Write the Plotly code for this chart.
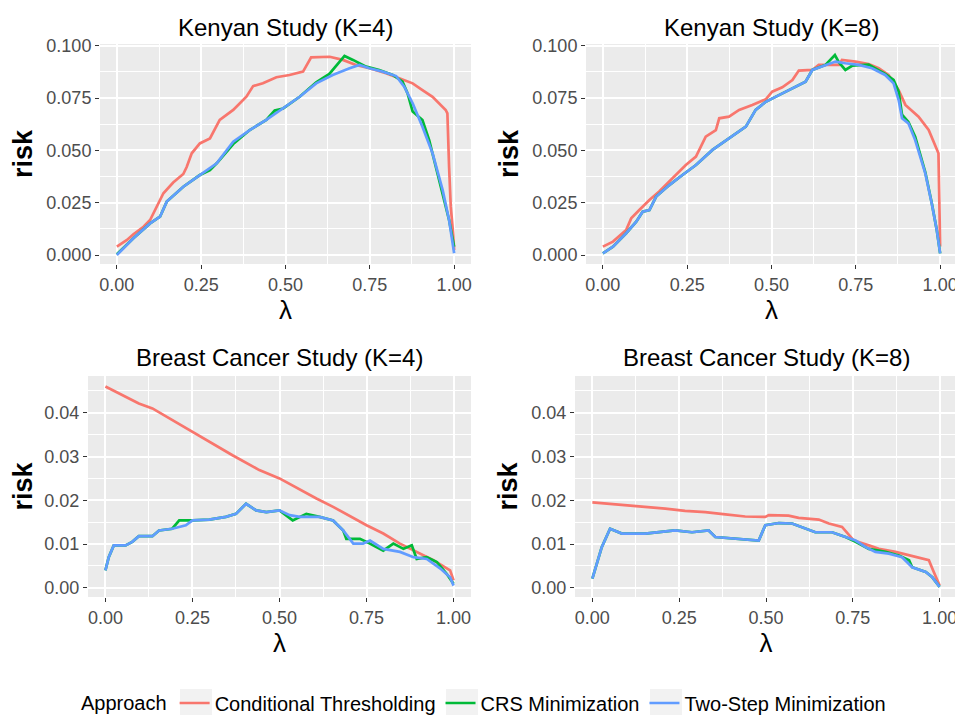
import plotly.graph_objects as go

# ---------------- data ----------------
series_names = ["Conditional Thresholding", "CRS Minimization", "Two-Step Minimization"]
series_colors = ["#F8766D", "#00BA38", "#619CFF"]
panel_titles = ["Kenyan Study (K=4)", "Kenyan Study (K=8)",
                "Breast Cancer Study (K=4)", "Breast Cancer Study (K=8)"]
x_tick_vals = [0, 0.25, 0.5, 0.75, 1.0]
x_tick_text = ["0.00", "0.25", "0.50", "0.75", "1.00"]
kenya_tick_vals = [0, 0.025, 0.05, 0.075, 0.1]
kenya_tick_text = ["0.000", "0.025", "0.050", "0.075", "0.100"]
breast_tick_vals = [0, 0.01, 0.02, 0.03, 0.04]
breast_tick_text = ["0.00", "0.01", "0.02", "0.03", "0.04"]

# Kenyan Study K=4
kenya4_ct_lambda = [0, 0.03, 0.049, 0.079, 0.0985, 0.118, 0.138, 0.167, 0.197, 0.207, 0.222, 0.246, 0.276,
                    0.305, 0.345, 0.384, 0.404, 0.433, 0.473, 0.512, 0.552, 0.576, 0.631, 0.67, 0.709, 0.749,
                    0.798, 0.837, 0.877, 0.906, 0.936, 0.975, 0.98, 0.985, 0.99, 0.997, 1.0]
kenya4_ct_risk = [0.004, 0.0072, 0.0099, 0.0135, 0.0167, 0.023, 0.0295, 0.0346, 0.0387, 0.042, 0.0486, 0.0533,
                  0.0557, 0.0645, 0.0693, 0.0756, 0.0807, 0.082, 0.0849, 0.086, 0.0876, 0.0944, 0.0947, 0.0932,
                  0.0908, 0.0892, 0.0868, 0.0844, 0.082, 0.0788, 0.0756, 0.0693, 0.0677, 0.0422, 0.0231, 0.0104,
                  0.0024]
kenya4_crs_lambda = [0, 0.049, 0.0985, 0.128, 0.148, 0.197, 0.246, 0.276, 0.296, 0.345, 0.394, 0.443, 0.468,
                     0.493, 0.542, 0.591, 0.63, 0.655, 0.675, 0.7, 0.739, 0.778, 0.818, 0.847, 0.862, 0.877,
                     0.906, 0.926, 0.946, 0.966, 0.985, 1.0]
kenya4_crs_risk = [0.0004, 0.008, 0.0151, 0.0183, 0.0255, 0.0326, 0.0382, 0.0405, 0.0438, 0.053, 0.0597, 0.0645,
                   0.069, 0.070, 0.0756, 0.0825, 0.0865, 0.091, 0.0951, 0.0932, 0.090, 0.0884, 0.086, 0.0828,
                   0.0772, 0.0685, 0.0645, 0.0549, 0.0422, 0.0295, 0.0167, 0.004]
kenya4_ts_lambda = [0, 0.049, 0.0985, 0.128, 0.148, 0.197, 0.246, 0.296, 0.345, 0.394, 0.443, 0.493, 0.542,
                    0.591, 0.64, 0.69, 0.719, 0.749, 0.788, 0.828, 0.852, 0.877, 0.906, 0.936, 0.966, 0.985, 1.0]
kenya4_ts_risk = [0.0, 0.008, 0.0151, 0.0183, 0.0255, 0.0326, 0.0382, 0.0438, 0.0541, 0.0597, 0.0645, 0.070,
                  0.0756, 0.082, 0.086, 0.0892, 0.0908, 0.0892, 0.0876, 0.0855, 0.0804, 0.0725, 0.0613, 0.0486,
                  0.031, 0.0167, 0.0008]

# Kenyan Study K=8
kenya8_ct_lambda = [0, 0.03, 0.069, 0.084, 0.108, 0.138, 0.167, 0.197, 0.227, 0.246, 0.276, 0.305, 0.335, 0.345,
                    0.374, 0.404, 0.443, 0.483, 0.502, 0.532, 0.562, 0.581, 0.621, 0.64, 0.7, 0.709, 0.749, 0.788,
                    0.818, 0.847, 0.877, 0.897, 0.936, 0.966, 0.995, 0.997, 1.0]
kenya8_ct_risk = [0.004, 0.0064, 0.0119, 0.0175, 0.0215, 0.0263, 0.0303, 0.035, 0.0398, 0.043, 0.047, 0.0565,
                  0.0597, 0.0653, 0.0661, 0.0693, 0.0717, 0.0744, 0.078, 0.0801, 0.0836, 0.0881, 0.0884, 0.0908,
                  0.0908, 0.0932, 0.0924, 0.0912, 0.0892, 0.086, 0.0788, 0.0717, 0.0661, 0.0597, 0.0486, 0.0247,
                  0.004]
kenya8_crs_lambda = [0, 0.03, 0.069, 0.099, 0.118, 0.138, 0.158, 0.197, 0.236, 0.276, 0.325, 0.374, 0.424, 0.453,
                     0.483, 0.522, 0.571, 0.601, 0.621, 0.66, 0.688, 0.70, 0.719, 0.74, 0.788, 0.837, 0.862,
                     0.877, 0.887, 0.906, 0.926, 0.956, 0.975, 0.99, 1.0]
kenya8_crs_risk = [0.0008, 0.004, 0.0104, 0.0159, 0.0207, 0.0215, 0.0279, 0.0334, 0.0382, 0.043, 0.0502, 0.0557,
                   0.0613, 0.0693, 0.0732, 0.0764, 0.0804, 0.0828, 0.0884, 0.0908, 0.0955, 0.092, 0.0884, 0.0905,
                   0.091, 0.0865, 0.0836, 0.078, 0.067, 0.0635, 0.0565, 0.0395, 0.025, 0.012, 0.0008]
kenya8_ts_lambda = [0, 0.03, 0.069, 0.099, 0.118, 0.138, 0.158, 0.197, 0.236, 0.276, 0.325, 0.374, 0.424, 0.453,
                    0.483, 0.522, 0.571, 0.601, 0.621, 0.66, 0.69, 0.719, 0.759, 0.798, 0.837, 0.862, 0.877, 0.887,
                    0.906, 0.926, 0.956, 0.975, 0.99, 1.0]
kenya8_ts_risk = [0.0008, 0.004, 0.0104, 0.0159, 0.0207, 0.0215, 0.0279, 0.0334, 0.0382, 0.043, 0.0502, 0.0557,
                  0.0613, 0.0693, 0.0732, 0.0764, 0.0804, 0.0828, 0.0884, 0.0908, 0.0924, 0.0916, 0.0908, 0.0892,
                  0.086, 0.082, 0.074, 0.0653, 0.0629, 0.0549, 0.039, 0.0247, 0.0119, 0.0008]

# Breast Cancer Study K=4
breast4_ct_lambda = [0, 0.096, 0.135, 0.25, 0.365, 0.442, 0.5, 0.606, 0.654, 0.75, 0.798, 0.846, 0.894, 0.942,
                     0.99, 1.0]
breast4_ct_risk = [0.046, 0.0421, 0.041, 0.0356, 0.0303, 0.0269, 0.025, 0.0204, 0.0185, 0.0143, 0.0124, 0.0101,
                   0.0082, 0.0063, 0.004, 0.0017]
breast4_crs_lambda = [0, 0.0096, 0.024, 0.058, 0.077, 0.096, 0.135, 0.154, 0.192, 0.212, 0.25, 0.298, 0.346,
                      0.375, 0.404, 0.433, 0.462, 0.5, 0.538, 0.577, 0.615, 0.654, 0.683, 0.692, 0.731, 0.75,
                      0.798, 0.827, 0.856, 0.88, 0.894, 0.923, 0.952, 0.98, 1.0]
breast4_crs_risk = [0.004, 0.007, 0.0097, 0.0097, 0.0105, 0.0118, 0.0118, 0.0131, 0.0135, 0.0154, 0.0154,
                    0.0156, 0.0162, 0.0169, 0.0192, 0.0177, 0.0173, 0.0177, 0.0154, 0.0169, 0.0162, 0.0154,
                    0.0131, 0.0112, 0.0112, 0.0105, 0.0085, 0.0101, 0.0089, 0.0097, 0.0066, 0.007, 0.0059,
                    0.0032, 0.0009]
breast4_ts_lambda = [0, 0.0096, 0.024, 0.058, 0.077, 0.096, 0.135, 0.154, 0.192, 0.231, 0.25, 0.298, 0.346,
                     0.375, 0.404, 0.433, 0.462, 0.5, 0.529, 0.558, 0.615, 0.654, 0.683, 0.712, 0.74, 0.76, 0.798,
                     0.846, 0.885, 0.923, 0.962, 0.99, 1.0]
breast4_ts_risk = [0.004, 0.007, 0.0097, 0.0097, 0.0105, 0.0118, 0.0118, 0.0131, 0.0135, 0.0143, 0.0154, 0.0156,
                   0.0162, 0.0169, 0.0192, 0.0177, 0.0173, 0.0177, 0.0166, 0.0162, 0.0162, 0.0154, 0.0131,
                   0.0101, 0.0101, 0.0108, 0.0089, 0.0082, 0.007, 0.0066, 0.0044, 0.0024, 0.0005]

# Breast Cancer Study K=8
breast8_ct_lambda = [0, 0.046, 0.104, 0.152, 0.21, 0.267, 0.325, 0.383, 0.44, 0.498, 0.508, 0.565, 0.594, 0.652,
                     0.681, 0.719, 0.753, 0.796, 0.825, 0.873, 0.912, 0.969, 0.981, 1.0]
breast8_ct_risk = [0.0195, 0.0192, 0.0189, 0.0186, 0.0181, 0.0176, 0.0173, 0.0168, 0.0163, 0.0162, 0.0166,
                   0.0165, 0.016, 0.0156, 0.0147, 0.0139, 0.0108, 0.0097, 0.0089, 0.0082, 0.0074, 0.0063, 0.004,
                   0.0005]
breast8_crs_lambda = [0, 0.0125, 0.027, 0.051, 0.065, 0.085, 0.152, 0.19, 0.238, 0.287, 0.335, 0.354, 0.421, 0.46,
                      0.479, 0.498, 0.537, 0.575, 0.613, 0.642, 0.69, 0.729, 0.758, 0.796, 0.844, 0.883, 0.912,
                      0.921, 0.96, 0.979, 1.0]
breast8_crs_risk = [0.0021, 0.0055, 0.0093, 0.0135, 0.0131, 0.0124, 0.0124, 0.0127, 0.0131, 0.0127, 0.0131,
                    0.0116, 0.0112, 0.0108, 0.0108, 0.0143, 0.0148, 0.0147, 0.0135, 0.0127, 0.0127, 0.0116,
                    0.0105, 0.0089, 0.0082, 0.0074, 0.0063, 0.0047, 0.0036, 0.0024, 0.0002]
breast8_ts_lambda = [0, 0.0125, 0.027, 0.051, 0.065, 0.085, 0.152, 0.19, 0.238, 0.287, 0.335, 0.354, 0.421, 0.46,
                     0.479, 0.498, 0.537, 0.575, 0.613, 0.642, 0.69, 0.729, 0.758, 0.787, 0.815, 0.854, 0.892,
                     0.921, 0.96, 0.979, 1.0]
breast8_ts_risk = [0.0021, 0.0055, 0.0093, 0.0135, 0.0131, 0.0124, 0.0124, 0.0127, 0.0131, 0.0127, 0.0131,
                   0.0116, 0.0112, 0.0108, 0.0108, 0.0143, 0.0148, 0.0147, 0.0135, 0.0127, 0.0127, 0.0116,
                   0.0108, 0.0093, 0.0082, 0.0078, 0.007, 0.0047, 0.0036, 0.0024, 0.0002]

panel_data = [
    [(kenya4_ct_lambda, kenya4_ct_risk), (kenya4_crs_lambda, kenya4_crs_risk), (kenya4_ts_lambda, kenya4_ts_risk)],
    [(kenya8_ct_lambda, kenya8_ct_risk), (kenya8_crs_lambda, kenya8_crs_risk), (kenya8_ts_lambda, kenya8_ts_risk)],
    [(breast4_ct_lambda, breast4_ct_risk), (breast4_crs_lambda, breast4_crs_risk), (breast4_ts_lambda, breast4_ts_risk)],
    [(breast8_ct_lambda, breast8_ct_risk), (breast8_crs_lambda, breast8_crs_risk), (breast8_ts_lambda, breast8_ts_risk)],
]

# ---------------- layout geometry ----------------
# The page body has an 8px default margin, so the figure is sized to fit the window after it.
OFF = 8
W, H = 963 - OFF, 715 - OFF
FONT = "Liberation Sans, Arial, sans-serif"

def dom_x(a, b):
    return [(a - OFF) / W, (b - OFF) / W]

def dom_y(top, bottom):
    return [1 - (bottom - OFF) / H, 1 - (top - OFF) / H]

def pos_x(a):
    return (a - OFF) / W

def pos_y(t):
    return 1 - (t - OFF) / H

panel_geom = [
    dict(x=dom_x(100, 471), y=dom_y(44, 264)),
    dict(x=dom_x(586, 957), y=dom_y(44, 264)),
    dict(x=dom_x(88, 471), y=dom_y(376, 597)),
    dict(x=dom_x(575, 957), y=dom_y(376, 597)),
]
y_ranges = [[-0.0043, 0.1008], [-0.0043, 0.1008], [-0.0021, 0.0484], [-0.0021, 0.0484]]
y_ticks = [(kenya_tick_vals, kenya_tick_text, 0.0125), (kenya_tick_vals, kenya_tick_text, 0.0125),
           (breast_tick_vals, breast_tick_text, 0.005), (breast_tick_vals, breast_tick_text, 0.005)]
title_y = [27, 27, 357, 357]
legend_key_boxes = [(180, 212), (446, 478), (650, 682)]

fig = go.Figure()

for p in range(4):
    sfx = "" if p == 0 else str(p + 1)
    for s in range(3):
        lam, risk = panel_data[p][s]
        fig.add_trace(go.Scatter(
            x=lam, y=risk, mode="lines", name=series_names[s],
            line=dict(color=series_colors[s], width=2.7),
            legendgroup=series_names[s], showlegend=(p == 0),
            xaxis="x" + sfx, yaxis="y" + sfx,
        ))

    g = panel_geom[p]
    tv, tt, minor_dt = y_ticks[p]
    fig.layout["xaxis" + sfx] = dict(
        domain=g["x"], anchor="y" + sfx, range=[-0.05, 1.05], automargin=False,
        tickvals=x_tick_vals, ticktext=x_tick_text,
        ticks="outside", ticklen=4, tickwidth=1, tickcolor="#333333",
        tickfont=dict(family=FONT, size=18, color="#4D4D4D"),
        showgrid=True, gridcolor="white", gridwidth=1.6, zeroline=False, showline=False,
        minor=dict(dtick=0.125, tick0=0, showgrid=True, gridcolor="white", gridwidth=0.8, ticks=""),
        title=dict(text="λ", font=dict(family=FONT, size=26, color="black"), standoff=3),
    )
    fig.layout["yaxis" + sfx] = dict(
        domain=g["y"], anchor="x" + sfx, range=y_ranges[p], automargin=False,
        tickvals=tv, ticktext=tt,
        ticks="outside", ticklen=4, tickwidth=1, tickcolor="#333333",
        tickfont=dict(family=FONT, size=18, color="#4D4D4D"),
        showgrid=True, gridcolor="white", gridwidth=1.6, zeroline=False, showline=False,
        minor=dict(dtick=minor_dt, tick0=0, showgrid=True, gridcolor="white", gridwidth=0.8, ticks=""),
        title=dict(text="risk", font=dict(family=FONT, size=27, color="black", weight="bold"), standoff=5),
    )
    fig.add_annotation(
        text=panel_titles[p], xref="paper", yref="paper",
        x=(g["x"][0] + g["x"][1]) / 2, y=pos_y(title_y[p]),
        xanchor="center", yanchor="middle", showarrow=False,
        font=dict(family=FONT, size=24, color="black"),
    )

# light grey legend key backgrounds (as in ggplot)
for a, b in legend_key_boxes:
    fig.add_shape(type="rect", xref="paper", yref="paper",
                  x0=pos_x(a), x1=pos_x(b), y0=pos_y(715), y1=pos_y(689),
                  fillcolor="#F2F2F2", line=dict(width=0), layer="below")

fig.update_layout(
    width=W, height=H, autosize=False,
    margin=dict(l=0, r=0, t=0, b=0, autoexpand=False),
    paper_bgcolor="white", plot_bgcolor="#EBEBEB",
    font=dict(family=FONT),
    showlegend=True,
    legend=dict(
        orientation="h", x=pos_x(485), xanchor="center", y=pos_y(703), yanchor="middle",
        title=dict(text="Approach", font=dict(family=FONT, size=20, color="black"), side="left"),
        font=dict(family=FONT, size=20, color="black"),
        bgcolor="rgba(0,0,0,0)", itemwidth=30, tracegroupgap=0,
    ),
)

fig.write_html("out.html")
